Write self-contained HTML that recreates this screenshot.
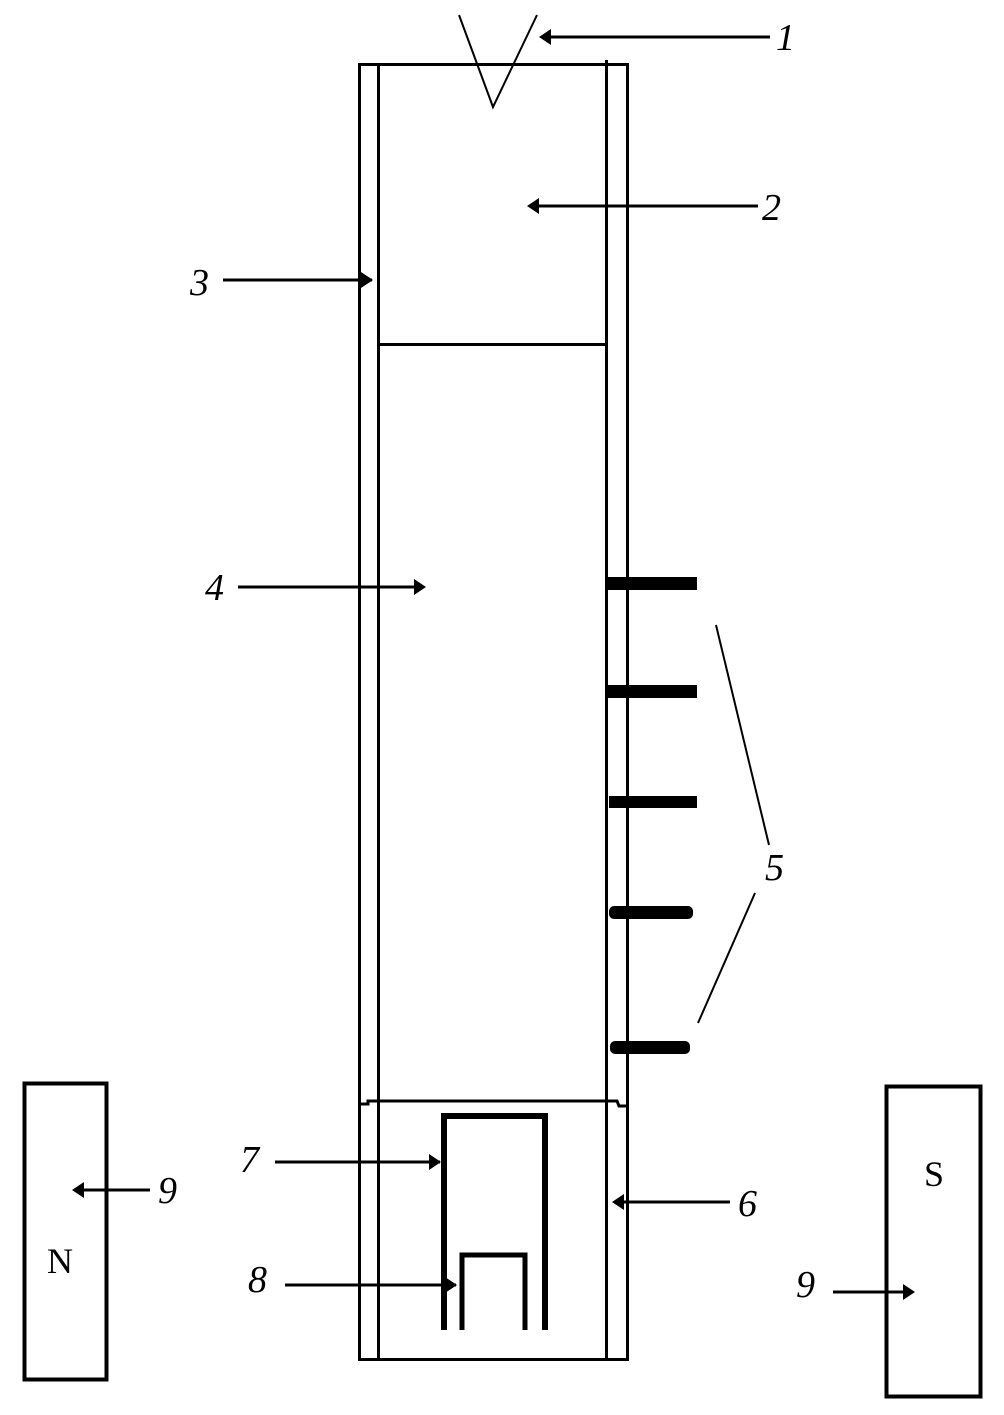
<!DOCTYPE html>
<html><head><style>body{margin:0;background:#fff}svg{display:block}text{font-family:"Liberation Serif",serif;font-style:italic;font-size:38px}</style></head>
<body>
<svg width="1004" height="1415" viewBox="0 0 1004 1415" xmlns="http://www.w3.org/2000/svg">
<g stroke="#000" fill="none" stroke-width="3">
<rect x="359.5" y="64.5" width="268" height="1295"/>
<line x1="378.5" y1="64" x2="378.5" y2="1360"/>
<line x1="606.5" y1="60" x2="606.5" y2="1360"/>
<line x1="378" y1="344.5" x2="606" y2="344.5"/>
<polyline points="360,1104 368,1104 368,1101 606,1101 617,1101 619,1106 627,1106"/>
<polyline points="459,15 493,107 537,15" stroke-width="2"/>
<rect x="24.5" y="1083.5" width="82" height="296" stroke-width="4"/>
<rect x="886.5" y="1086.5" width="94" height="310" stroke-width="4"/>
<polyline points="444,1330 444,1116 545,1116 545,1330" stroke-width="6"/>
<polyline points="462,1330 462,1255 525,1255 525,1330" stroke-width="5"/>
<line x1="716" y1="625" x2="769" y2="845" stroke-width="2"/>
<line x1="698" y1="1023" x2="755" y2="893" stroke-width="2"/>
</g>
<g fill="#000">
<rect x="608" y="577" width="89" height="13"/>
<rect x="608" y="685" width="89" height="13"/>
<rect x="609" y="796" width="88" height="12"/>
<rect x="609" y="906" width="84" height="13" rx="5"/>
<rect x="610" y="1041" width="80" height="13" rx="5"/>
</g>
<g stroke="#000" stroke-width="3">
<line x1="545" y1="37" x2="770" y2="37"/>
<line x1="532" y1="206" x2="758" y2="206"/>
<line x1="223" y1="280" x2="372" y2="280"/>
<line x1="238" y1="587" x2="423" y2="587"/>
<line x1="275" y1="1162" x2="440" y2="1162"/>
<line x1="285" y1="1285" x2="456" y2="1285"/>
<line x1="617" y1="1202" x2="730" y2="1202"/>
<line x1="76" y1="1190" x2="150" y2="1190"/>
<line x1="833" y1="1292" x2="912" y2="1292"/>
</g>
<g fill="#000">
<polygon points="539,37 551,29 551,45"/>
<polygon points="527,206 539,198 539,214"/>
<polygon points="373,280 361,272 361,288"/>
<polygon points="426,587 414,579 414,595"/>
<polygon points="441,1162 429,1154 429,1170"/>
<polygon points="457,1285 445,1277 445,1293"/>
<polygon points="612,1202 624,1194 624,1210"/>
<polygon points="72,1190 84,1182 84,1198"/>
<polygon points="915,1292 903,1284 903,1300"/>
</g>
<text x="776" y="50">1</text>
<text x="762" y="220">2</text>
<text x="190" y="295">3</text>
<text x="205" y="600">4</text>
<text x="765" y="880">5</text>
<text x="738" y="1216">6</text>
<text x="240" y="1172">7</text>
<text x="248" y="1292">8</text>
<text x="158" y="1203">9</text>
<text x="796" y="1297">9</text>
<text x="47" y="1273" style="font-style:normal;font-size:36px">N</text>
<text x="924" y="1186" style="font-style:normal;font-size:36px">S</text>
</svg>
</body></html>
